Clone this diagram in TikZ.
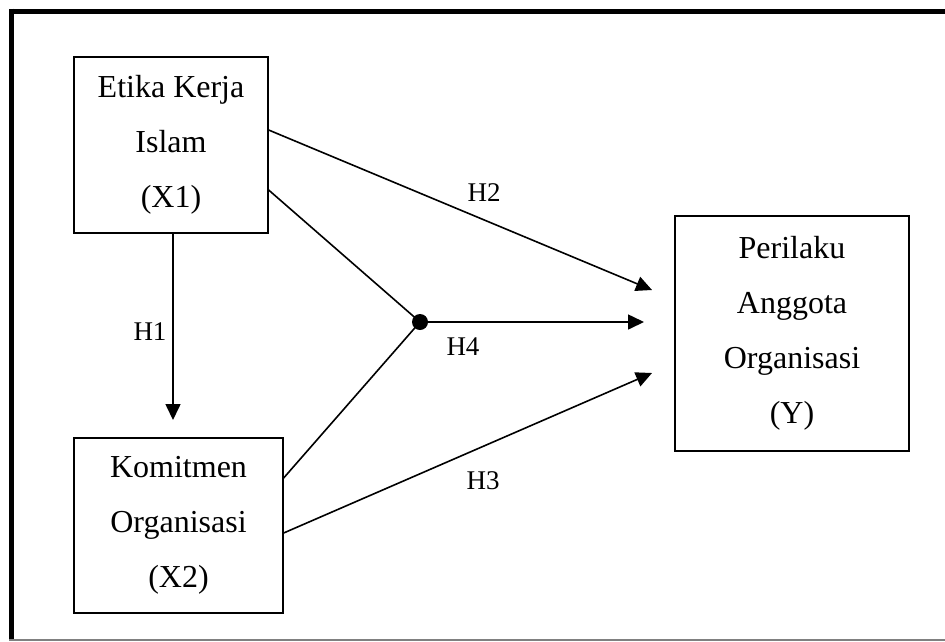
\documentclass[tikz,border=0pt]{standalone}
\usepackage{fontspec}
\setmainfont{Liberation Serif}
\usetikzlibrary{arrows.meta}
\tikzset{
  varbox/.style={draw, line width=1.3pt, inner sep=0pt, align=center,
    font={\fontsize{32}{55}\selectfont}},
  conn/.style={line width=1.6pt},
  arr/.style={line width=1.6pt, -{Triangle[length=16pt,width=15pt]}},
  hlabel/.style={font={\fontsize{27}{30}\selectfont}, inner sep=0pt},
}
\begin{document}
\begin{tikzpicture}[x=1pt,y=-1pt]
\useasboundingbox (0,0) rectangle (945,641);
% frame
\draw[line width=5pt] (11.5,8.5) -- (11.5,641);
\draw[line width=5pt] (9,11) -- (945,11);
\draw[gray, line width=1.5pt] (9,640) -- (945,640);
% boxes
\node[varbox, minimum width=194pt, minimum height=176pt] (x1) at (171,145) {Etika Kerja\\Islam\\(X1)};
\node[varbox, minimum width=209pt, minimum height=175pt] (x2) at (178.5,525.5) {Komitmen\\Organisasi\\(X2)};
\node[varbox, minimum width=234pt, minimum height=235pt] (y) at (792,333.5) {Perilaku\\Anggota\\Organisasi\\(Y)};
% junction
\node[circle, fill, inner sep=0pt, minimum size=16pt] (j) at (420,322) {};
% arrow tips
\coordinate (t1) at (173,420);
\coordinate (t2) at (652,290);
\coordinate (t4) at (644,322);
\coordinate (t3) at (652,373);
% connectors
\draw[arr] ([xshift=2pt]x1.south) -- (t1);
\draw[arr] ([yshift=15pt]x1.east) -- (t2);
\draw[conn] ([yshift=-45pt]x1.east) -- (j.center);
\draw[conn] ([yshift=47.5pt]x2.east) -- (j.center);
\draw[arr] (j.center) -- (t4);
\draw[arr] ([yshift=-7.5pt]x2.east) -- (t3);
% labels
\node[hlabel] (l1) at (150,332) {H1};
\node[hlabel] (l2) at (484,193) {H2};
\node[hlabel] (l3) at (483,481) {H3};
\node[hlabel] (l4) at (463,347) {H4};
\end{tikzpicture}
\end{document}
